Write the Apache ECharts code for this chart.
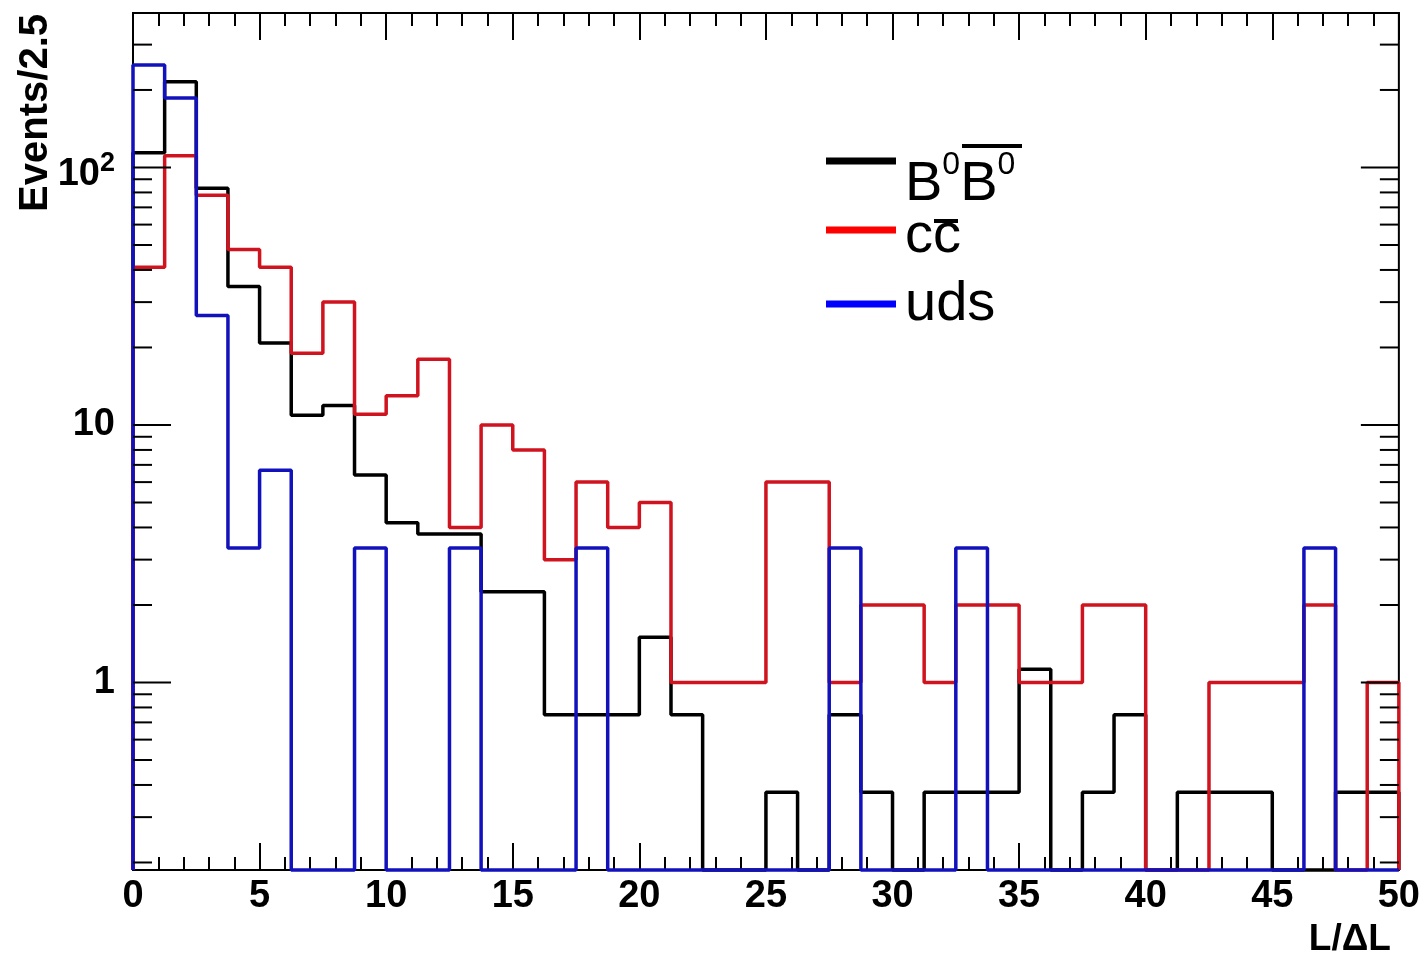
<!DOCTYPE html>
<html><head><meta charset="utf-8">
<script src="https://cdn.jsdelivr.net/npm/echarts@6/dist/echarts.min.js"></script>
<style>html,body{margin:0;padding:0;background:#fff}#c{width:1423px;height:960px}</style>
</head><body><div id="c"></div>
<script>
// ---- data ----
const binLowEdges = [0,1.25,2.5,3.75,5,6.25,7.5,8.75,10,11.25,12.5,13.75,15,16.25,17.5,18.75,20,21.25,22.5,23.75,25,26.25,27.5,28.75,30,31.25,32.5,33.75,35,36.25,37.5,38.75,40,41.25,42.5,43.75,45,46.25,47.5,48.75];
const X_MAX = 50;
const bbEvents  = [114,215,83,34.5,20.8,10.9,11.9,6.4,4.17,3.77,3.77,2.25,2.25,0.75,0.75,0.75,1.5,0.75,0,0,0.375,0,0.75,0.375,0,0.375,0.375,0.375,1.125,0,0.375,0.75,0,0.375,0.375,0.375,0,0,0.375,0.375];
const ccEvents  = [41,111,78,48,41,19,30,11,13,18,4,10,8,3,6,4,5,1,1,1,6,6,1,2,2,1,2,2,1,1,2,2,0,0,1,1,1,2,0,1];
const udsEvents = [250,186,26.6,3.33,6.67,0,0,3.33,0,0,3.33,0,0,0,3.33,0,0,0,0,0,0,0,3.33,0,0,0,3.33,0,0,0,0,0,0,0,0,0,0,3.33,0,0];
const seriesNames = ['B0B0bar', 'ccbar', 'uds'];
const xTickLabels = [0,5,10,15,20,25,30,35,40,45,50];
const yLabelTicks = [1, 10, 100];
const yMinorTicks = [0.2,0.3,0.4,0.5,0.6,0.7,0.8,0.9,2,3,4,5,6,7,8,9,20,30,40,50,60,70,80,90,200,300];
const Y_MIN = 0.187, Y_MAX = 398;

const FONT = '"Liberation Sans", Arial, Helvetica, sans-serif';

function histPoints(vals) {
  const pts = [[binLowEdges[0], Y_MIN]];
  vals.forEach((v, i) => pts.push([binLowEdges[i], v > 0 ? v : Y_MIN]));
  const last = vals[vals.length - 1];
  pts.push([X_MAX, last > 0 ? last : Y_MIN]);
  pts.push([X_MAX, Y_MIN]);
  return pts;
}

function lineSeries(name, vals, color) {
  return {
    type: 'line', name: name, data: histPoints(vals), step: 'end',
    showSymbol: false, symbol: 'none', clip: false, z: 3,
    lineStyle: { color: color, width: 3.5 }, itemStyle: { color: color },
    emphasis: { disabled: true }
  };
}

const chart = echarts.init(document.getElementById('c'), null, { renderer: 'canvas' });

function yLabelFmt(v) {
  const l = Math.log10(v);
  const r = Math.round(l);
  if (Math.abs(l - r) > 1e-6) return '';
  if (r === 0) return '{b|1}';
  if (r === 1) return '{b|10}';
  if (r === 2) return '{b2|10}{s|2}';
  return '';
}

const xAxisCommon = {
  type: 'value', min: 0, max: X_MAX, interval: 5,
  splitLine: { show: false },
  axisLine: { show: true, onZero: false, lineStyle: { color: '#000', width: 2 } },
  axisTick: { show: true, inside: true, length: 27, lineStyle: { color: '#000', width: 2 } },
  minorTick: { show: true, splitNumber: 5, length: 13, lineStyle: { color: '#000', width: 2 } }
};

const option = {
  animation: false,
  backgroundColor: '#fff',
  grid: { left: 133, right: 22, top: 13, bottom: 90, show: true, borderColor: '#000', borderWidth: 2, backgroundColor: 'transparent' },
  xAxis: [
    Object.assign({}, xAxisCommon, {
      position: 'bottom',
      axisLabel: {
        show: true, margin: 8, fontSize: 38, fontWeight: 'bold', color: '#000', fontFamily: FONT,
        showMinLabel: true, showMaxLabel: true,
        formatter: v => (xTickLabels.indexOf(v) >= 0 ? String(v) : '')
      },
      name: 'L/\u0394L', nameLocation: 'end', nameGap: -8,
      nameTextStyle: { fontSize: 37, fontWeight: 'bold', color: '#000', fontFamily: FONT, align: 'right', verticalAlign: 'top', padding: [51, 0, 0, 0] }
    }),
    Object.assign({}, xAxisCommon, {
      position: 'top', axisLabel: { show: false }
    })
  ],
  yAxis: [{
    type: 'log', logBase: 10, min: Y_MIN, max: Y_MAX,
    splitLine: { show: false },
    axisLine: { show: true, onZero: false, lineStyle: { color: '#000', width: 2 } },
    axisTick: { show: false },
    minorTick: { show: false },
    axisLabel: {
      margin: 18, color: '#000', fontFamily: FONT, fontWeight: 'bold', fontSize: 38,
      formatter: yLabelFmt,
      rich: {
        b:  { fontSize: 38, fontWeight: 'bold', fontFamily: FONT, color: '#000', lineHeight: 44 },
        b2: { fontSize: 38, fontWeight: 'bold', fontFamily: FONT, color: '#000', lineHeight: 44, padding: [14, 0, 0, 0] },
        s:  { fontSize: 27, fontWeight: 'bold', fontFamily: FONT, color: '#000', verticalAlign: 'top', padding: [5, 0, 0, 0] }
      }
    }
  }],
  series: [
    lineSeries(seriesNames[0], bbEvents, '#000000'),
    lineSeries(seriesNames[1], ccEvents, '#cf1420'),
    lineSeries(seriesNames[2], udsEvents, '#1212bc'),
    {
      type: 'custom', name: 'yTicks', silent: true, z: 4,
      data: [[0, 1]],
      renderItem: function (params, api) {
        const cs = params.coordSys;
        const children = [];
        const add = (v, len) => {
          const y = api.coord([0, v])[1];
          children.push({ type: 'line', shape: { x1: cs.x, y1: y, x2: cs.x + len, y2: y }, style: { stroke: '#000', lineWidth: 2 } });
          children.push({ type: 'line', shape: { x1: cs.x + cs.width - len, y1: y, x2: cs.x + cs.width, y2: y }, style: { stroke: '#000', lineWidth: 2 } });
        };
        yLabelTicks.forEach(v => add(v, 38));
        yMinorTicks.forEach(v => add(v, 19));
        return { type: 'group', children: children };
      }
    }
  ],
  graphic: [
    { type: 'text', x: 36, y: 14, rotation: Math.PI / 2,
      style: { text: 'Events/2.5', font: 'bold 40px ' + FONT, fill: '#000', align: 'right', verticalAlign: 'middle' } },
    // legend
    { type: 'line', shape: { x1: 826, y1: 161, x2: 896, y2: 161 }, style: { stroke: '#000000', lineWidth: 7 } },
    { type: 'line', shape: { x1: 826, y1: 230, x2: 896, y2: 230 }, style: { stroke: '#ff0000', lineWidth: 7 } },
    { type: 'line', shape: { x1: 826, y1: 304, x2: 896, y2: 304 }, style: { stroke: '#0000ff', lineWidth: 7 } },
    { type: 'text', x: 905, y: 185,
      style: { text: '{b|B}{s|0}{b|B}{s|0}', align: 'left', verticalAlign: 'middle',
        rich: {
          b: { fontSize: 56, fontFamily: FONT, fill: '#000', lineHeight: 72 },
          s: { fontSize: 32, fontFamily: FONT, fill: '#000', verticalAlign: 'top' }
        } } },
    { type: 'line', shape: { x1: 962, y1: 146, x2: 1022, y2: 146 }, style: { stroke: '#000', lineWidth: 4 } },
    { type: 'text', x: 905, y: 237,
      style: { text: 'cc', font: '56px ' + FONT, fill: '#000', align: 'left', verticalAlign: 'middle' } },
    { type: 'line', shape: { x1: 934, y1: 221, x2: 958, y2: 221 }, style: { stroke: '#000', lineWidth: 4 } },
    { type: 'text', x: 905, y: 305,
      style: { text: 'uds', font: '56px ' + FONT, fill: '#000', align: 'left', verticalAlign: 'middle' } }
  ]
};
chart.setOption(option);
</script>
</body></html>
